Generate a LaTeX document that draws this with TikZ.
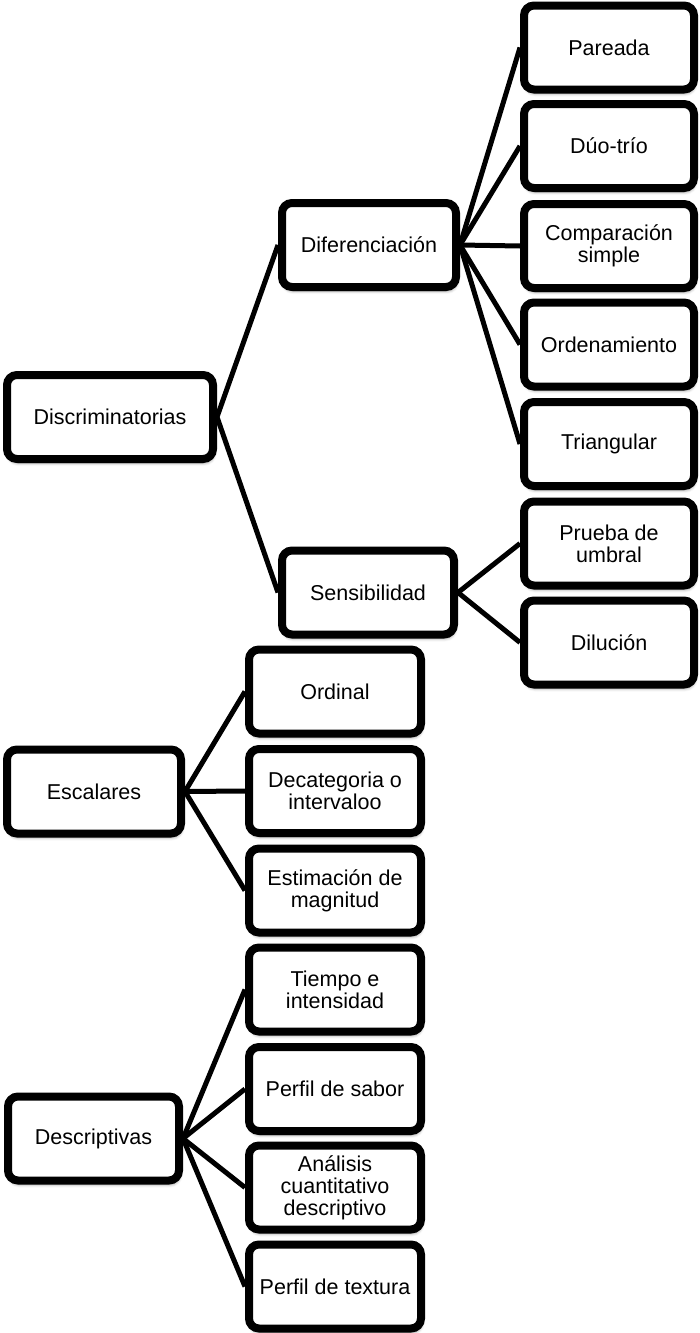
\documentclass[tikz,border=0pt]{standalone}
\usepackage{fontspec}
\setmainfont{Liberation Sans}
\usetikzlibrary{shadows.blur}
\begin{document}
\begin{tikzpicture}[x=1pt,y=-1pt,
  font=\fontsize{21.5}{22}\selectfont,
  box/.style={draw=black, line width=8pt, rounded corners=10pt, fill=white,
    minimum width=#1, minimum height=84pt, inner sep=0pt, align=center,
    blur shadow={shadow xshift=1pt, shadow yshift=-4pt, shadow blur radius=3pt, shadow opacity=45}},
  box/.default=172pt,
  link/.style={line width=5pt, black}]
\useasboundingbox (0,0) rectangle (699,1333);

% first level
\node[box=206pt] (disc) at (110,417) {Discriminatorias};
\node[box=174pt] (esc) at (94,791.5) {Escalares};
\node[box=171pt] (desc) at (93.5,1138.5) {Descriptivas};

% second level under Discriminatorias
\node[box=174pt] (dif) at (369,245) {Diferenciación};
\node[box=172pt] (sens) at (368,592.5) {Sensibilidad};

% tests of difference and sensitivity
\node[box=170pt] (par) at (609,47.5) {Pareada};
\node[box=170pt] (duo) at (609,146) {Dúo-trío};
\node[box=170pt] (comp) at (609,246) {Comparación\\simple};
\node[box=170pt] (ord) at (609,344.5) {Ordenamiento};
\node[box=170pt] (tri) at (609,444) {Triangular};
\node[box=170pt] (umb) at (609,543.5) {Prueba de\\umbral};
\node[box=170pt] (dil) at (609,642.5) {Dilución};

% scalar tests
\node[box] (ordi) at (335,691.5) {Ordinal};
\node[box] (deca) at (335,791) {Decategoria o\\intervaloo};
\node[box] (esti) at (335,890.5) {Estimación de\\magnitud};

% descriptive tests
\node[box] (tiem) at (335,989.5) {Tiempo e\\intensidad};
\node[box] (sab) at (335,1089) {Perfil de sabor};
\node[box] (qda) at (335,1187.5) {Análisis\\cuantitativo\\descriptivo};
\node[box] (tex) at (335,1286.5) {Perfil de textura};

% connectors
\foreach \a/\b in {disc/dif, disc/sens,
  dif/par, dif/duo, dif/comp, dif/ord, dif/tri,
  sens/umb, sens/dil,
  esc/ordi, esc/deca, esc/esti,
  desc/tiem, desc/sab, desc/qda, desc/tex}
  \draw[link] (\a.east) -- (\b.west);
\end{tikzpicture}
\end{document}
